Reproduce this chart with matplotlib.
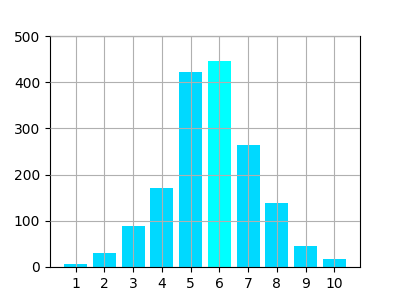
import matplotlib
matplotlib.use("Agg")
import matplotlib.pyplot as plt

categories = [1, 2, 3, 4, 5, 6, 7, 8, 9, 10]
values = [7, 30, 89, 171, 422, 446, 264, 139, 46, 17]
colors = ['#00d9ff'] * 10
colors[5] = '#00ffff'

fig, ax = plt.subplots(figsize=(4, 3), dpi=100)
ax.bar(categories, values, color=colors, width=0.8)
ax.set_axisbelow(False)
ax.grid(True, color='#b0b0b0')
ax.set_xticks(categories)
ax.set_ylim(0, 500)
fig.savefig('out.png')
